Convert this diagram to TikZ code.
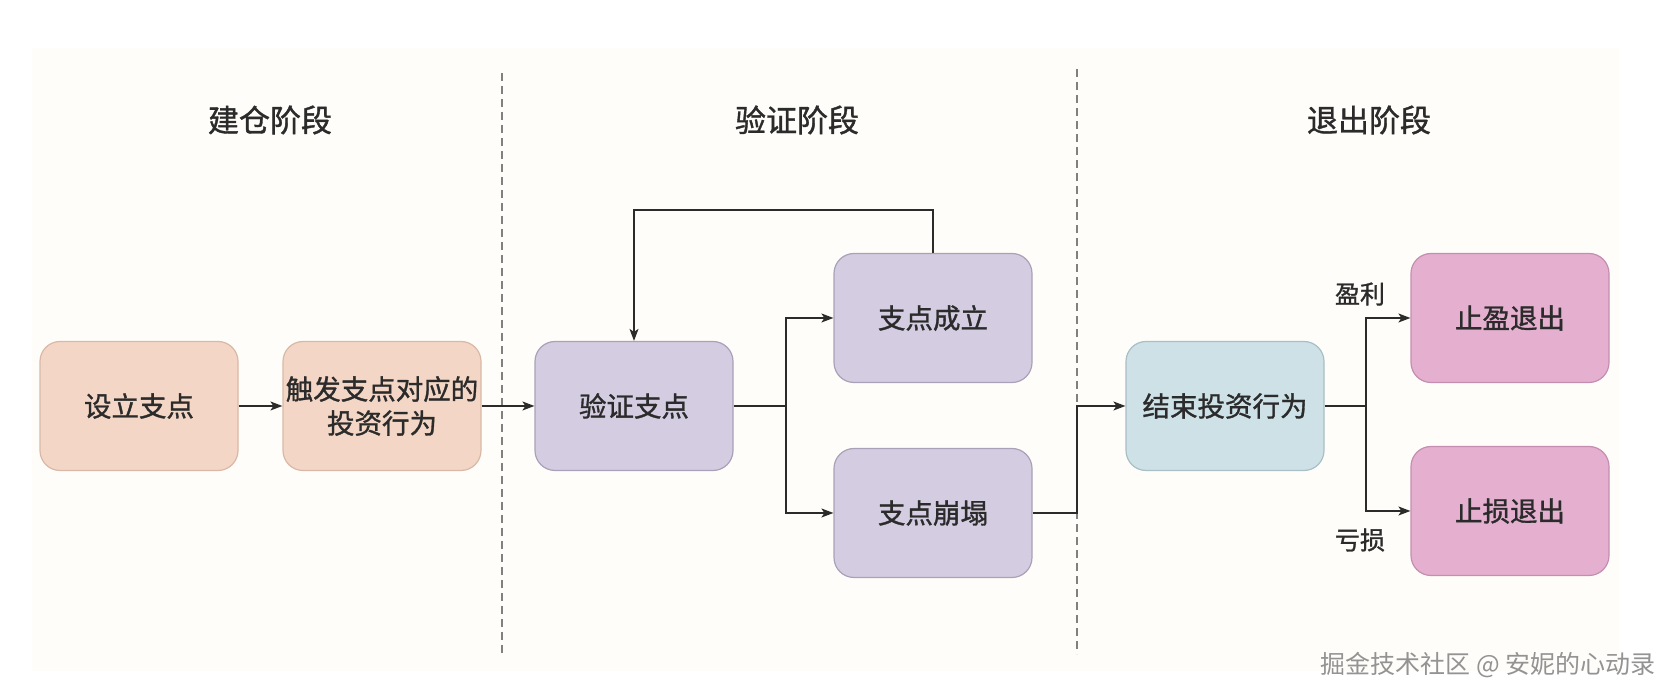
\documentclass[tikz,border=0pt]{standalone}
\usepackage{fontspec}
\newfontfamily\cjk[FakeBold=1.2]{Noto Sans CJK SC}
\newfontfamily\cjkplain{Noto Sans CJK SC}
\usetikzlibrary{arrows.meta}

\definecolor{paper}{HTML}{FFFDF9}
\definecolor{ink}{HTML}{2B2B2B}
\definecolor{peachfill}{HTML}{F3D6C5}
\definecolor{peachline}{HTML}{D9B8A6}
\definecolor{lilacfill}{HTML}{D4CCE1}
\definecolor{lilacline}{HTML}{A9A0B9}
\definecolor{bluefill}{HTML}{CDE1E7}
\definecolor{blueline}{HTML}{A7BFC5}
\definecolor{pinkfill}{HTML}{E5B0D0}
\definecolor{pinkline}{HTML}{C58DB0}

\tikzset{
	box/.style={draw, line width=1.2pt, rounded corners=20pt, align=center,
		text=ink, font=\cjk\fontsize{27.5}{34}\selectfont, inner sep=0pt,
		minimum width=198pt, minimum height=129pt},
	peach/.style={box, fill=peachfill, draw=peachline},
	lilac/.style={box, fill=lilacfill, draw=lilacline},
	bluebox/.style={box, fill=bluefill, draw=blueline},
	pinkbox/.style={box, fill=pinkfill, draw=pinkline},
	phase/.style={text=ink, font=\cjk\fontsize{31}{36}\selectfont},
	tag/.style={text=ink, font=\cjk\fontsize{25}{30}\selectfont},
	link/.style={draw=ink, line width=1.4pt},
	arr/.style={link, -{Stealth[length=12pt,width=9pt,inset=3pt]}},
	divider/.style={draw=gray, line width=1.2pt, dash pattern=on 8pt off 5pt}
}

\begin{document}
\begin{tikzpicture}[x=1pt,y=1pt]
			% page and paper
			\fill[white] (0,0) rectangle (1676,700);
			\fill[paper] (32,29) rectangle (1619,652);
			\useasboundingbox (0,0) rectangle (1676,700);
			
			% phases
			\node[phase] (h1) at (270,580) {建仓阶段};
			\node[phase] (h2) at (797,580) {验证阶段};
			\node[phase] (h3) at (1369,580) {退出阶段};
			\draw[divider] (502,627) -- (502,46);
			\draw[divider] (1077,631) -- (1077,46);
			
			% build
			\node[peach] (s1) at (139,294) {设立支点};
			\node[peach] (s2) at (382,294) {触发支点对应的\\投资行为};
			
			% verify
			\node[lilac] (v1) at (634,294) {验证支点};
			\node[lilac] (v2) at (933,382) {支点成立};
			\node[lilac] (v3) at (933,187) {支点崩塌};
			
			% exit
			\node[bluebox] (e1) at (1225,294) {结束投资行为};
			\node[pinkbox] (e2) at (1510,382) {止盈退出};
			\node[pinkbox] (e3) at (1510,189) {止损退出};
			\node[tag] (g1) at (1360,406) {盈利};
			\node[tag] (g2) at (1360,160) {亏损};
			
			\coordinate (j1) at (786,294);
			\coordinate (t1) at (933,490);
			\coordinate (j2) at (1077,294);
			\coordinate (j3) at (1366,294);
			
			\draw[arr] (s1) -- (s2);
			\draw[arr] (s2) -- (v1);
			\draw[link] (v1) -- (j1);
			\draw[arr] (j1) |- (v2);
			\draw[arr] (j1) |- (v3);
			\draw[arr] (v2.north) -- (t1) -| (v1.north);
			\draw[arr] (v3) -| (j2) -- (e1);
			\draw[link] (e1) -- (j3);
			\draw[arr] (j3) |- (e2);
			\draw[arr] (j3) |- (e3);
			
			\node[text=gray!85, font=\cjkplain\fontsize{25}{30}\selectfont] (wm) at (1488,35) {掘金技术社区 @ 安妮的心动录};
		\end{tikzpicture}
\end{document}
